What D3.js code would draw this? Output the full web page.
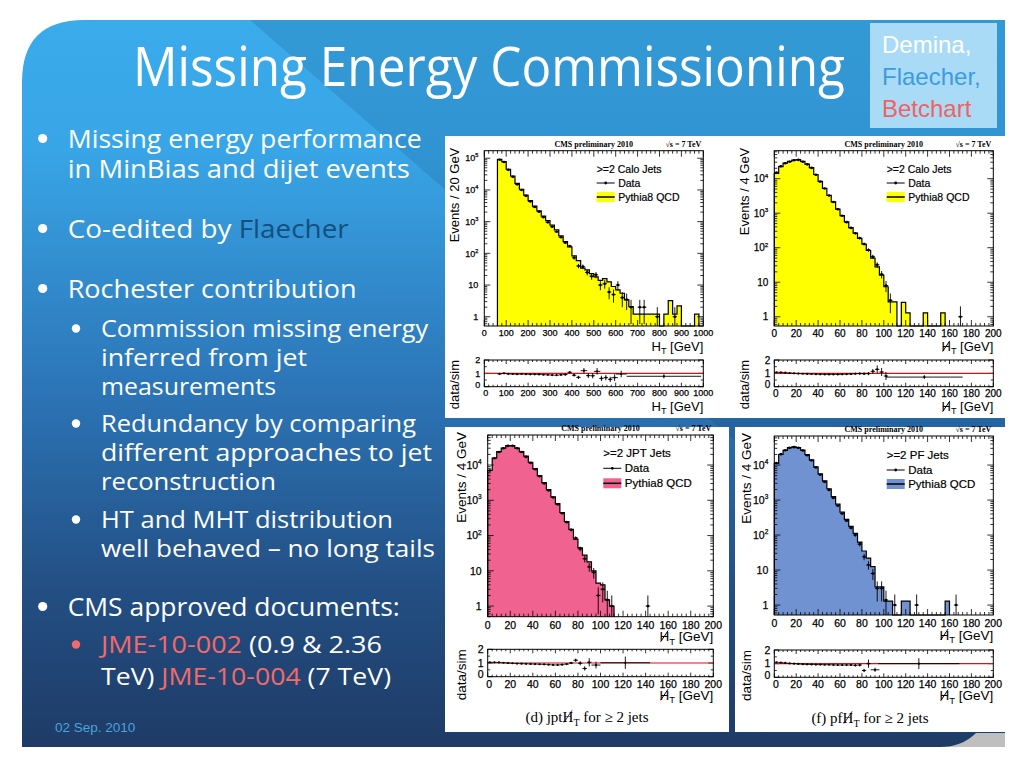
<!DOCTYPE html>
<html>
<head>
<meta charset="utf-8">
<script src="https://cdn.jsdelivr.net/npm/d3@7"></script>
<style>
  body { margin: 0; background: #fff; }
  svg { display: block; }
  text { white-space: pre; }
</style>
</head>
<body>
<svg id="slide" width="1024" height="768"></svg>
<script>
// ---------- slide text ----------
const slideTitle = "Missing Energy Commissioning";
const authors = [["Demina,", "#ffffff"], ["Flaecher,", "#3d9be0"], ["Betchart", "#f06262"]];
const dateText = "02 Sep. 2010";
// each line: level, bullet?, segments [text, colour key]
const bulletLines = [
  [1, true,  [["Missing energy performance", "w"]]],
  [1, false, [["in MinBias and dijet events", "w"]]],
  [1, true,  [["Co-edited by ", "w"], ["Flaecher", "b"]]],
  [1, true,  [["Rochester contribution", "w"]]],
  [2, true,  [["Commission missing energy", "w"]]],
  [2, false, [["inferred from jet", "w"]]],
  [2, false, [["measurements", "w"]]],
  [2, true,  [["Redundancy by comparing", "w"]]],
  [2, false, [["different approaches to jet", "w"]]],
  [2, false, [["reconstruction", "w"]]],
  [2, true,  [["HT and MHT distribution", "w"]]],
  [2, false, [["well behaved \u2013 no long tails", "w"]]],
  [1, true,  [["CMS approved documents:", "w"]]],
  [2, "red", [["JME-10-002", "r"], [" (0.9 & 2.36", "w"]]],
  [2, false, [["TeV) ", "w"], ["JME-10-004", "r"], [" (7 TeV)", "w"]]]
];

// ---------- histogram data (counts per bin) ----------
// calo HT, 20 GeV bins starting at 60 GeV
const caloHtHist = [93000, 78000, 45000, 27500, 16000, 10500, 6900, 4600, 3100, 2200,
  1500, 1070, 780, 550, 355, 235, 160, 83, 59, 34, 30, 23, 18, 14, 16, 12.6, 9, 7, 5.5,
  3.4, 2.1, 1.2, 1.2, 1.2, 1.2, 1.2, 1.2, 0, 1.2, 3.2, 1.2, 2.2, 0, 0, 0, 1.2, 0];
const caloHtData = [[70, 90000], [90, 76000], [110, 43000], [130, 26000], [150, 15000],
  [170, 10000], [190, 6500], [210, 4300], [230, 2900], [250, 2050], [270, 1380], [290, 950],
  [310, 690], [330, 480], [350, 320], [370, 215], [390, 170], [410, 72], [430, 40], [450, 38],
  [470, 25], [490, 19], [510, 21], [530, 10], [550, 11], [570, 6], [590, 5], [610, 10],
  [630, 4], [650, 3.5], [670, 2], [710, 2], [730, 2], [790, 1], [870, 1]];
// [x, ratio, half width, error]
const caloHtRatio = [[70, 0.96, 10, 0.01], [90, 1.0, 10, 0.01], [110, 0.96, 10, 0.01],
  [130, 0.95, 10, 0.01], [150, 0.94, 10, 0.01], [170, 0.95, 10, 0.01], [190, 0.94, 10, 0.02],
  [210, 0.93, 10, 0.02], [230, 0.93, 10, 0.02], [250, 0.92, 10, 0.03], [270, 0.9, 10, 0.03],
  [290, 0.89, 10, 0.04], [310, 0.87, 10, 0.04], [330, 0.86, 10, 0.05], [350, 0.89, 10, 0.06],
  [370, 0.91, 10, 0.07], [390, 1.08, 10, 0.09], [410, 0.86, 10, 0.1], [430, 0.7, 10, 0.12],
  [455, 1.2, 15, 0.2], [475, 0.83, 10, 0.18], [495, 0.82, 10, 0.2], [515, 1.15, 15, 0.25],
  [535, 0.62, 10, 0.2], [555, 0.68, 10, 0.2], [575, 0.55, 10, 0.2], [595, 0.68, 15, 0.25],
  [625, 0.95, 25, 0.25], [820, 0.78, 170, 0.15]];

// calo MHT, 4 GeV bins from 0
const caloMhtHist = [14100, 22400, 28200, 31600, 34700, 35500, 31600, 26300, 20900, 13200,
  8300, 5250, 3300, 2140, 1320, 850, 560, 380, 263, 186, 126, 83, 50, 28, 16, 7.4, 2.7, 2.7,
  0, 2.6, 1.3, 0, 0, 0, 1.3, 0, 0, 0, 1.3];
const caloMhtData = [[2, 15000], [6, 23000], [10, 28000], [14, 31000], [18, 34000],
  [22, 35000], [26, 31000], [30, 26000], [34, 20500], [38, 13000], [42, 8200], [46, 5200],
  [50, 3250], [54, 2100], [58, 1300], [62, 840], [66, 550], [70, 375], [74, 262], [78, 190],
  [82, 128], [86, 86], [90, 55], [94, 32], [98, 17], [102, 8], [106, 3], [170, 1]];
const caloMhtRatio = [[2, 1.08, 2, 0.01], [6, 1.07, 2, 0.01], [10, 1.05, 2, 0.01],
  [14, 1.02, 2, 0.01], [18, 1.0, 2, 0.01], [22, 0.98, 2, 0.01], [26, 0.97, 2, 0.01],
  [30, 0.96, 2, 0.01], [34, 0.95, 2, 0.01], [38, 0.94, 2, 0.01], [42, 0.93, 2, 0.02],
  [46, 0.92, 2, 0.02], [50, 0.92, 2, 0.02], [54, 0.92, 2, 0.03], [58, 0.92, 2, 0.03],
  [62, 0.93, 2, 0.04], [66, 0.94, 2, 0.05], [70, 0.95, 2, 0.06], [74, 0.97, 2, 0.07],
  [78, 0.98, 2, 0.08], [82, 0.97, 2, 0.1], [86, 0.98, 2, 0.12], [90, 1.15, 2, 0.18],
  [94, 1.3, 2, 0.3], [98, 1.1, 2, 0.3], [102, 0.8, 2, 0.3], [137, 0.72, 35, 0.15]];

// JPT MHT
const jptMhtHist = [7100, 15800, 24000, 30200, 35500, 35500, 30200, 24000, 17800, 12000,
  7900, 5000, 3160, 2000, 1260, 800, 450, 250, 150, 79, 45, 28, 18, 10, 4.5, 4, 1.5, 1.0];
const jptMhtData = [[2, 7000], [6, 15500], [10, 23500], [14, 30000], [18, 35000],
  [22, 35000], [26, 30000], [30, 23500], [34, 17000], [38, 11500], [42, 7600], [46, 4800],
  [50, 3000], [54, 1900], [58, 1200], [62, 760], [66, 430], [70, 240], [74, 145], [78, 85],
  [82, 42], [86, 22], [90, 13], [94, 9], [98, 2], [102, 3], [106, 1.5], [110, 1], [142, 1]];
const jptMhtRatio = [[2, 1.05, 2, 0.01], [6, 1.05, 2, 0.01], [10, 1.04, 2, 0.01],
  [14, 1.02, 2, 0.01], [18, 1.0, 2, 0.01], [22, 0.98, 2, 0.01], [26, 0.96, 2, 0.01],
  [30, 0.95, 2, 0.01], [34, 0.94, 2, 0.01], [38, 0.93, 2, 0.01], [42, 0.92, 2, 0.02],
  [46, 0.91, 2, 0.02], [50, 0.9, 2, 0.02], [54, 0.88, 2, 0.03], [58, 0.86, 2, 0.03],
  [62, 0.86, 2, 0.04], [66, 0.88, 2, 0.05], [70, 0.92, 2, 0.07], [74, 1.0, 2, 0.08],
  [78, 1.2, 2, 0.12], [82, 0.98, 2, 0.15], [86, 0.6, 2, 0.15], [90, 1.05, 2, 0.3],
  [96, 0.85, 4, 0.25], [122, 1.02, 22, 0.45]];

// PF MHT
const pfMhtHist = [11200, 20000, 26300, 31600, 33100, 31600, 26900, 20000, 14100, 8900,
  5600, 3550, 2100, 1260, 760, 450, 280, 178, 112, 63, 35, 22, 12.6, 3.3, 3.3, 1.3, 1.3,
  0, 0, 1.3, 1.3, 0, 0, 0, 0, 0, 0, 0, 0, 1.3];
const pfMhtData = [[2, 11500], [6, 20500], [10, 26500], [14, 31000], [18, 32500],
  [22, 31000], [26, 26000], [30, 19000], [34, 13500], [38, 8500], [42, 5300], [46, 3300],
  [50, 1950], [54, 1150], [58, 690], [62, 410], [66, 255], [70, 160], [74, 100], [78, 55],
  [82, 24], [86, 14], [90, 8], [94, 3], [98, 3], [102, 1.4], [110, 1], [130, 1], [166, 1]];
const pfMhtRatio = [[2, 1.1, 2, 0.01], [6, 1.08, 2, 0.01], [10, 1.05, 2, 0.01],
  [14, 1.02, 2, 0.01], [18, 1.0, 2, 0.01], [22, 0.98, 2, 0.01], [26, 0.96, 2, 0.01],
  [30, 0.95, 2, 0.01], [34, 0.94, 2, 0.01], [38, 0.93, 2, 0.01], [42, 0.93, 2, 0.02],
  [46, 0.92, 2, 0.02], [50, 0.92, 2, 0.02], [54, 0.91, 2, 0.03], [58, 0.9, 2, 0.03],
  [62, 0.9, 2, 0.04], [66, 0.9, 2, 0.05], [70, 0.9, 2, 0.06], [74, 0.88, 2, 0.08],
  [78, 0.9, 2, 0.1], [82, 0.5, 2, 0.12], [86, 1.0, 2, 0.3], [92, 0.55, 4, 0.15],
  [132, 1.0, 37, 0.4]];

// ---------- drawing ----------
const svg = d3.select("#slide");
const sans = "'Liberation Sans', Arial, sans-serif";
const serif = "'Liberation Serif', 'Times New Roman', serif";
const body = "'Open Sans', sans-serif";

const defs = svg.append("defs");
const grad = defs.append("linearGradient").attr("id", "bg")
  .attr("x1", 0).attr("y1", 0).attr("x2", 0).attr("y2", 1);
[[0, "#3aabeb"], [0.18, "#38a5e6"], [0.5, "#2c76b8"], [0.78, "#234f84"], [1, "#1e3b66"]]
  .forEach(([o, c]) => grad.append("stop").attr("offset", o).attr("stop-color", c));

// background panel
svg.append("rect").attr("x", 930).attr("y", 733).attr("width", 75).attr("height", 14).attr("fill", "#bfbfbf");
svg.append("path")
  .attr("d", "M22,82 Q22,20 84,20 L1005,20 L1005,733 L976,733 Q962,747 940,747 L22,747 Z")
  .attr("fill", "url(#bg)");
svg.append("path").attr("d", "M250,20 L1005,20 L1005,676 Z").attr("fill", "#0a2a50").attr("opacity", 0.13);

// title
svg.append("text").attr("x", 133).attr("y", 86)
  .attr("textLength", 712).attr("lengthAdjust", "spacingAndGlyphs")
  .attr("font-family", body).attr("font-size", 54).attr("fill", "#fff")
  .text(slideTitle);

// author box
svg.append("rect").attr("x", 870).attr("y", 23).attr("width", 127).attr("height", 105).attr("fill", "#a9dbf6");
authors.forEach(([name, col], i) => {
  svg.append("text").attr("x", 882).attr("y", 53 + i * 32)
    .attr("font-family", sans).attr("font-size", 24).attr("fill", col).text(name);
});

// bullets
const lineY = [148, 178, 238, 298, 337, 366, 395, 432, 461, 490, 528, 557, 616, 653, 685];
const lineW = [354, 342, 281, 289, 327, 206, 175, 315, 331, 175, 292, 334, 332, 281, 290];
const segColour = { w: "#ffffff", b: "#134f80", r: "#f26a6a" };
bulletLines.forEach(([lvl, dot, segs], i) => {
  const tx = lvl === 1 ? 67.7 : 101;
  if (dot) {
    svg.append("circle").attr("cx", lvl === 1 ? 42.7 : 76).attr("cy", lineY[i] - (lvl === 1 ? 9.5 : 8.5))
      .attr("r", lvl === 1 ? 4.6 : 4.2).attr("fill", dot === "red" ? "#f26a6a" : "#fff");
  }
  const t = svg.append("text").attr("x", tx).attr("y", lineY[i])
    .attr("textLength", lineW[i]).attr("lengthAdjust", "spacingAndGlyphs")
    .attr("font-family", body).attr("font-size", lvl === 1 ? 25 : 24);
  segs.forEach(([s, c]) => t.append("tspan").attr("fill", segColour[c]).text(s));
});

svg.append("text").attr("x", 55).attr("y", 732).attr("font-family", sans)
  .attr("font-size", 13.5).attr("fill", "#4aa3dc").text(dateText);

// white plot panels
[[445, 136, 561, 282], [445, 427, 284, 305], [735, 427, 273, 305]].forEach(([x, y, w, h]) =>
  svg.append("rect").attr("x", x).attr("y", y).attr("width", w).attr("height", h).attr("fill", "#fff"));

// slash drawn across the H at character index idx (missing transverse momentum)
function slashOver(g, textSel, idx, baseline, fs, sw) {
  const ext = textSel.node().getExtentOfChar(idx);
  g.append("line")
    .attr("x1", ext.x + ext.width * 0.12).attr("y1", baseline + fs * 0.04)
    .attr("x2", ext.x + ext.width * 0.88).attr("y2", baseline - fs * 0.78)
    .attr("stroke", "#000").attr("stroke-width", sw);
}

function hTitle(g, x, y, fs, slashed) {
  const t = g.append("text").attr("x", x).attr("y", y).attr("text-anchor", "end")
    .attr("font-size", fs).attr("font-family", sans);
  t.append("tspan").text("H");
  t.append("tspan").attr("font-size", fs * 0.7).attr("dy", fs * 0.25).text("T");
  t.append("tspan").attr("dy", -fs * 0.25).text(" [GeV]");
  if (slashed) slashOver(g, t, 0, y, fs, 1);
  return t;
}

function drawPlot(p) {
  const f = p.frame;
  const g = svg.append("g");
  const x = d3.scaleLinear().domain(p.xDomain).range([f.l, f.r]);
  const y = d3.scaleLog().domain(p.yDomain).range([f.b, f.t]);
  const yr = d3.scaleLinear().domain([0, 2]).range([f.rb, f.rt]);
  const yc = v => (v > 0 ? Math.max(f.t, Math.min(f.b, y(v))) : f.b);

  // MC histogram
  const steps = p.hist.map((c, i) => [p.binStart + i * p.binWidth, c]);
  steps.push([p.binStart + p.hist.length * p.binWidth, 0]);
  g.append("path").datum(steps)
    .attr("d", d3.area().curve(d3.curveStepAfter).x(d => x(d[0])).y0(f.b).y1(d => yc(d[1])))
    .attr("fill", p.fill);
  g.append("path").datum([[p.binStart, 0], ...steps])
    .attr("d", d3.line().curve(d3.curveStepAfter).x(d => x(d[0])).y(d => yc(d[1])))
    .attr("fill", "none").attr("stroke", "#000").attr("stroke-width", 1.2);

  // data points
  const hw = p.binWidth / 2;
  const dg = g.append("g").attr("stroke", "#000").attr("stroke-width", 0.9);
  p.data.forEach(([cx, n]) => {
    const e = Math.sqrt(n);
    dg.append("line").attr("x1", x(cx)).attr("x2", x(cx)).attr("y1", yc(n - e)).attr("y2", yc(n + e));
    dg.append("line").attr("x1", x(cx - hw)).attr("x2", x(cx + hw)).attr("y1", yc(n)).attr("y2", yc(n));
  });
  g.append("g").selectAll("circle").data(p.data).join("circle")
    .attr("cx", d => x(d[0])).attr("cy", d => yc(d[1])).attr("r", 1.3).attr("fill", "#000");

  // ticks
  const xMajor = d3.range(p.xDomain[0], p.xDomain[1] + 1e-6, p.xMajor);
  const xMinor = d3.range(p.xDomain[0], p.xDomain[1] + 1e-6, p.xMinor);
  const decades = d3.range(0, 6).map(k => Math.pow(10, k)).filter(v => v >= p.yDomain[0] && v <= p.yDomain[1]);
  const logMinor = [];
  for (let k = -1; k < 6; k++) for (let m = 2; m < 10; m++) {
    const v = m * Math.pow(10, k);
    if (v >= p.yDomain[0] && v <= p.yDomain[1]) logMinor.push(v);
  }
  let d = "";
  xMinor.forEach(v => {
    const big = xMajor.includes(v);
    const L = big ? 6 : 3, Lr = big ? 4 : 2;
    d += `M${x(v)},${f.b}v${-L}M${x(v)},${f.t}v${L}`;
    d += `M${x(v)},${f.rb}v${-Lr}M${x(v)},${f.rt}v${Lr}`;
  });
  decades.forEach(v => { d += `M${f.l},${y(v)}h6M${f.r},${y(v)}h-6`; });
  logMinor.forEach(v => { d += `M${f.l},${y(v)}h3M${f.r},${y(v)}h-3`; });
  [0, 1, 2].forEach(v => { d += `M${f.l},${yr(v)}h5M${f.r},${yr(v)}h-5`; });
  [0.5, 1.5].forEach(v => { d += `M${f.l},${yr(v)}h2.5M${f.r},${yr(v)}h-2.5`; });
  g.append("path").attr("d", d).attr("stroke", "#000").attr("stroke-width", 0.8).attr("fill", "none");

  // ratio red line and points
  g.append("line").attr("x1", f.l).attr("x2", f.r).attr("y1", yr(1)).attr("y2", yr(1))
    .attr("stroke", "#e01010").attr("stroke-width", 1.2);
  const rg = g.append("g").attr("stroke", "#000").attr("stroke-width", 0.9);
  p.ratio.forEach(([cx, r, w, e]) => {
    rg.append("line").attr("x1", x(cx - w)).attr("x2", x(cx + w)).attr("y1", yr(r)).attr("y2", yr(r));
    rg.append("line").attr("x1", x(cx)).attr("x2", x(cx))
      .attr("y1", yr(Math.max(0, r - e))).attr("y2", yr(Math.min(2, r + e)));
  });
  g.append("g").selectAll("circle").data(p.ratio).join("circle")
    .attr("cx", d => x(d[0])).attr("cy", d => yr(d[1])).attr("r", 1.1).attr("fill", "#000");

  g.append("rect").attr("x", f.l).attr("y", f.t).attr("width", f.r - f.l).attr("height", f.b - f.t)
    .attr("fill", "none").attr("stroke", "#000").attr("stroke-width", 1);
  g.append("rect").attr("x", f.l).attr("y", f.rt).attr("width", f.r - f.l).attr("height", f.rb - f.rt)
    .attr("fill", "none").attr("stroke", "#000").attr("stroke-width", 1);

  // tick labels
  const lab = g.append("g").attr("font-family", sans).attr("font-size", p.tickFs).attr("fill", "#000")
    .attr("stroke", "#000").attr("stroke-width", 0.25);
  xMajor.forEach(v => {
    lab.append("text").attr("x", x(v)).attr("y", f.b + p.tickFs + 1.3).attr("text-anchor", "middle").text(v);
    lab.append("text").attr("x", x(v) + (v === 0 ? 1.5 : 0)).attr("y", f.rb + p.tickFs + 0.5)
      .attr("text-anchor", "middle").text(v);
  });
  decades.forEach(v => {
    const k = Math.round(Math.log10(v));
    const t = lab.append("text").attr("x", f.l - 6).attr("y", y(v) + p.tickFs * 0.36).attr("text-anchor", "end");
    if (k === 0) t.text("1");
    else if (k === 1) t.text("10");
    else {
      t.append("tspan").text("10");
      t.append("tspan").attr("dy", -p.tickFs * 0.45).attr("font-size", p.tickFs * 0.62).text(k);
    }
  });
  [0, 1, 2].forEach(v => {
    lab.append("text").attr("x", f.l - 4).attr("y", yr(v) + p.tickFs * 0.36 - (v === 0 ? 2 : 0))
      .attr("text-anchor", "end").text(v);
  });

  // axis titles
  hTitle(g, f.r, f.b + p.titleDy, p.titleFs, p.slashed);
  hTitle(g, f.r, f.rb + p.rTitleDy, p.titleFs, p.slashed);
  g.append("text").attr("transform", `translate(${f.l - p.yTitleDx},${f.t - 3}) rotate(-90)`)
    .attr("text-anchor", "end").attr("font-family", sans).attr("font-size", p.titleFs).text(p.yTitle);
  g.append("text").attr("transform", `translate(${f.l - p.yTitleDx},${f.rt}) rotate(-90)`)
    .attr("text-anchor", "end").attr("font-family", sans).attr("font-size", p.titleFs).text("data/sim");

  // CMS label
  g.append("text").attr("x", (f.l + f.r) / 2).attr("y", f.t - 4).attr("text-anchor", "middle")
    .attr("font-family", serif).attr("font-weight", "bold").attr("font-size", 8).text("CMS preliminary 2010");
  g.append("text").attr("x", f.r - 2).attr("y", f.t - 4).attr("text-anchor", "end")
    .attr("font-family", serif).attr("font-weight", "bold").attr("font-size", 8).text("\u221As = 7 TeV");

  // legend
  const lx = f.l + p.legend.dx;
  const [l0, l1, l2] = p.legend.dy.map(v => f.t + v);
  const lf = p.legend.fs;
  const lg = g.append("g").attr("font-family", sans).attr("font-size", lf);
  const lt = lg.append("g").attr("stroke", "#000").attr("stroke-width", 0.2);
  lt.append("text").attr("x", lx).attr("y", l0 + lf * 0.36).text(p.legend.title);
  lt.append("text").attr("x", lx + 21.5).attr("y", l1 + lf * 0.36).text("Data");
  lt.append("text").attr("x", lx + 21.5).attr("y", l2 + lf * 0.36).text("Pythia8 QCD");
  lg.append("line").attr("x1", lx).attr("x2", lx + 18).attr("y1", l1).attr("y2", l1).attr("stroke", "#000");
  lg.append("circle").attr("cx", lx + 9).attr("cy", l1).attr("r", 1.4);
  lg.append("rect").attr("x", lx).attr("y", l2 - 5).attr("width", 18).attr("height", 10).attr("fill", p.fill);
  lg.append("line").attr("x1", lx).attr("x2", lx + 18).attr("y1", l2).attr("y2", l2).attr("stroke", "#000").attr("stroke-width", 1.5);

  // caption
  if (p.caption) {
    const fs = 15;
    const c = g.append("text").attr("x", p.caption.x).attr("y", p.caption.y).attr("text-anchor", "middle")
      .attr("font-family", serif).attr("font-size", fs);
    c.append("tspan").text(p.caption.pre + "H");
    c.append("tspan").attr("font-size", 10).attr("dy", fs * 0.25).text("T");
    c.append("tspan").attr("dy", -fs * 0.25).text(" for \u2265 2 jets");
    slashOver(g, c, p.caption.pre.length, p.caption.y, fs, 0.8);
  }
}

drawPlot({
  frame: { l: 484.3, r: 703.3, t: 150.7, b: 326, rt: 360, rb: 386.7 },
  xDomain: [0, 1000], xMajor: 100, xMinor: 20, yDomain: [0.51, 173000],
  binStart: 60, binWidth: 20, hist: caloHtHist, data: caloHtData, ratio: caloHtRatio,
  fill: "#ffff00", tickFs: 9, titleFs: 13, titleDy: 25, rTitleDy: 24, yTitleDx: 25,
  slashed: false, yTitle: "Events / 20 GeV",
  legend: { dx: 112.4, dy: [18.3, 32.3, 46.3], fs: 10.5, title: ">=2 Calo Jets" }
});
drawPlot({
  frame: { l: 774.3, r: 993.3, t: 150.7, b: 326, rt: 360, rb: 386.7 },
  xDomain: [0, 200], xMajor: 20, xMinor: 4, yDomain: [0.54, 64600],
  binStart: 0, binWidth: 4, hist: caloMhtHist, data: caloMhtData, ratio: caloMhtRatio,
  fill: "#ffff00", tickFs: 10, titleFs: 13, titleDy: 25, rTitleDy: 24.5, yTitleDx: 25,
  slashed: true, yTitle: "Events / 4 GeV",
  legend: { dx: 112.4, dy: [18.3, 32.3, 46.3], fs: 10.5, title: ">=2 Calo Jets" }
});
drawPlot({
  frame: { l: 487.7, r: 713.3, t: 435, b: 616.7, rt: 649.3, rb: 676.7 },
  xDomain: [0, 200], xMajor: 20, xMinor: 4, yDomain: [0.5, 71000],
  binStart: 0, binWidth: 4, hist: jptMhtHist, data: jptMhtData, ratio: jptMhtRatio,
  fill: "#f0628f", tickFs: 10.5, titleFs: 13.5, titleDy: 24.5, rTitleDy: 23, yTitleDx: 22,
  slashed: true, yTitle: "Events / 4 GeV",
  legend: { dx: 115.6, dy: [18.3, 33.3, 48.3], fs: 11.5, title: ">=2 JPT Jets" },
  caption: { x: 587, y: 722, pre: "(d) jpt" }
});
drawPlot({
  frame: { l: 774.3, r: 993.3, t: 436, b: 615, rt: 650, rb: 677.3 },
  xDomain: [0, 200], xMajor: 20, xMinor: 4, yDomain: [0.52, 67600],
  binStart: 0, binWidth: 4, hist: pfMhtHist, data: pfMhtData, ratio: pfMhtRatio,
  fill: "#7092d0", tickFs: 10.5, titleFs: 13.5, titleDy: 24.5, rTitleDy: 23, yTitleDx: 23,
  slashed: true, yTitle: "Events / 4 GeV",
  legend: { dx: 112.4, dy: [19, 34, 48], fs: 11.5, title: ">=2 PF Jets" },
  caption: { x: 870, y: 723, pre: "(f) pf" }
});
</script>
</body>
</html>
